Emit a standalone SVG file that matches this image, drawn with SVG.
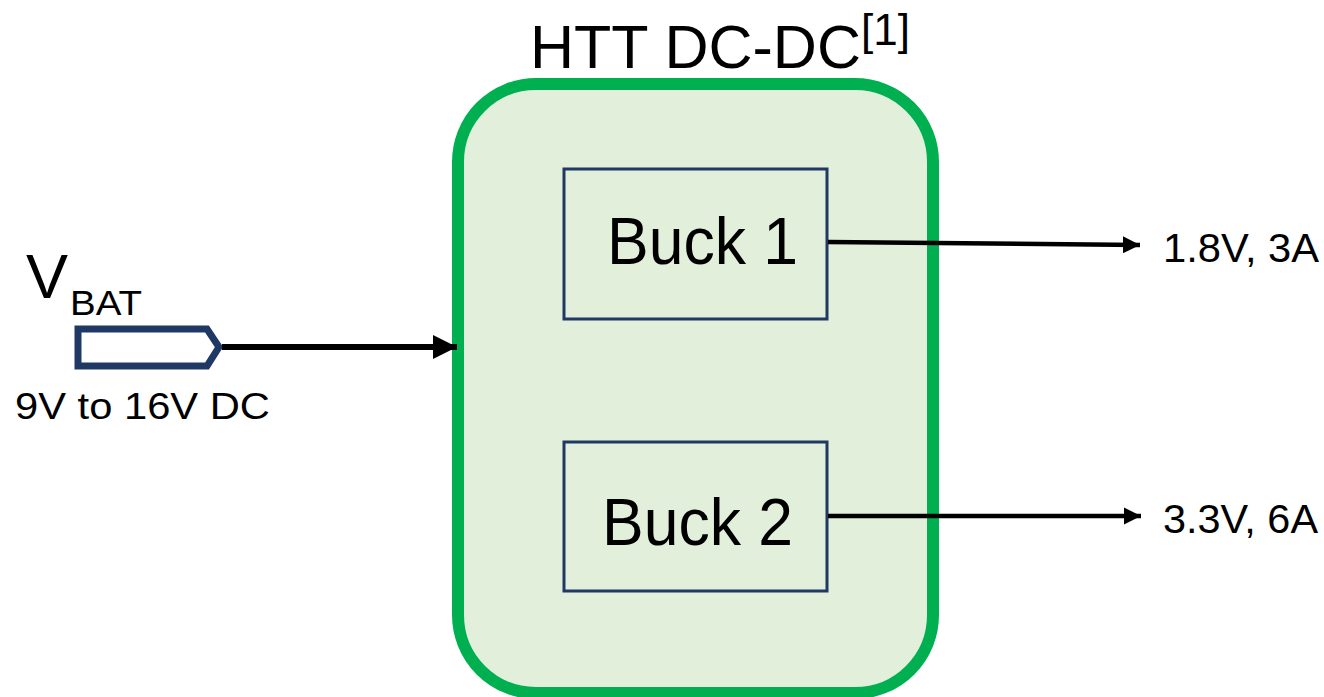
<svg xmlns="http://www.w3.org/2000/svg" width="1324" height="697" viewBox="0 0 1324 697">
<style>
text{font-family:"Liberation Sans",Arial,sans-serif;fill:#000}
.buck{fill:#E2EFDA;stroke:#1F3864;stroke-width:3}
.wire{stroke:#000;fill:none}
</style>
<defs>
<marker id="ah" viewBox="0 0 10 10" refX="10" refY="5" markerWidth="4" markerHeight="4" orient="auto" markerUnits="strokeWidth"><path d="M0,0 L10,5 L0,10 z" fill="#000"/></marker>
<marker id="ahs" viewBox="0 0 10 10" refX="10" refY="5" markerWidth="3.8" markerHeight="3.8" orient="auto" markerUnits="strokeWidth"><path d="M0,0 L10,5 L0,10 z" fill="#000"/></marker>
</defs>
<rect width="1324" height="697" fill="#fff"/>
<g id="htt">
<rect x="458" y="84" width="475" height="609" rx="78" ry="78" fill="#E2EFDA" stroke="#00B050" stroke-width="12"/>
<text x="530" y="68" font-size="61">HTT DC-DC<tspan font-size="44" dy="-23">[1]</tspan></text>
</g>
<g id="buck1">
<rect class="buck" x="564" y="169" width="263" height="150"/>
<text x="607" y="264" font-size="66" textLength="191" lengthAdjust="spacingAndGlyphs">Buck 1</text>
</g>
<g id="buck2">
<rect class="buck" x="564" y="442" width="263" height="149"/>
<text x="602" y="545" font-size="66" textLength="191" lengthAdjust="spacingAndGlyphs">Buck 2</text>
</g>
<g id="vbat">
<polygon points="78,329 207,329 219,347 207,366 78,366" fill="#fff" stroke="#1F3864" stroke-width="7"/>
<text x="26" y="298" font-size="63">V</text>
<text x="70" y="315" font-size="35" textLength="72" lengthAdjust="spacingAndGlyphs">BAT</text>
<text x="15" y="419" font-size="36" textLength="255" lengthAdjust="spacingAndGlyphs">9V to 16V DC</text>
</g>
<g id="out1">
<text x="1163" y="262" font-size="41" textLength="156" lengthAdjust="spacingAndGlyphs">1.8V, 3A</text>
</g>
<g id="out2">
<text x="1163" y="533" font-size="41" textLength="155" lengthAdjust="spacingAndGlyphs">3.3V, 6A</text>
</g>
<g id="connectors">
<line class="wire" x1="222" y1="347" x2="457" y2="347" stroke-width="6" marker-end="url(#ah)"/>
<line class="wire" x1="828" y1="242" x2="1140" y2="245" stroke-width="4.5" marker-end="url(#ahs)"/>
<line class="wire" x1="828" y1="516" x2="1141" y2="516" stroke-width="4.5" marker-end="url(#ahs)"/>
</g>
</svg>
